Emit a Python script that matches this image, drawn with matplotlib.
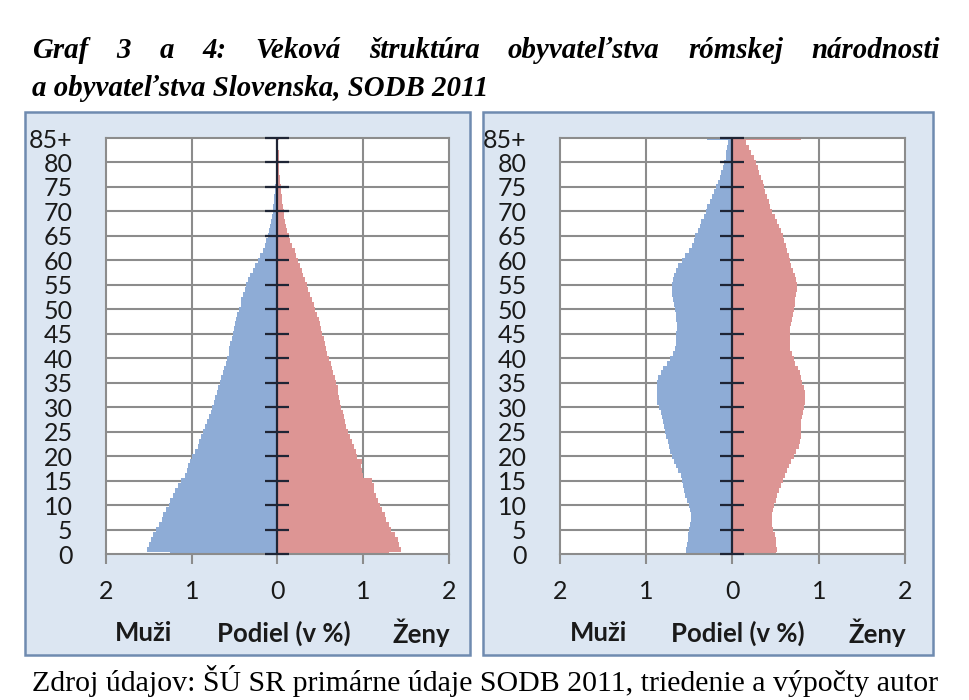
import numpy as np
import matplotlib
matplotlib.use('Agg')
import matplotlib.pyplot as plt
from matplotlib.patches import Rectangle

# ages 0..84 and 85+
ages = list(range(86))
ageLabels = [str(a) for a in range(0, 85, 5)] + ['85+']

# Roma population (% of total), men and women
romaMen = [1.25, 1.52, 1.50, 1.47, 1.45, 1.42, 1.38, 1.35, 1.33, 1.30,
           1.27, 1.25, 1.22, 1.19, 1.16, 1.12, 1.08, 1.05, 1.04, 1.02,
           1.00, 0.96, 0.93, 0.91, 0.89, 0.87, 0.84, 0.82, 0.80, 0.78,
           0.76, 0.74, 0.73, 0.71, 0.69, 0.67, 0.66, 0.64, 0.62, 0.60,
           0.59, 0.57, 0.56, 0.55, 0.53, 0.52, 0.51, 0.49, 0.48, 0.47,
           0.45, 0.43, 0.42, 0.40, 0.38, 0.37, 0.34, 0.32, 0.29, 0.26,
           0.23, 0.20, 0.17, 0.15, 0.13, 0.11, 0.10, 0.09, 0.07, 0.06,
           0.05, 0.05, 0.04, 0.04, 0.03, 0.03, 0.02, 0.02, 0.02, 0.02,
           0.01, 0.01, 0.01, 0.01, 0.01, 0.01]
romaWomen = [1.30, 1.44, 1.42, 1.40, 1.37, 1.32, 1.30, 1.27, 1.25, 1.22,
             1.19, 1.17, 1.15, 1.13, 1.12, 1.10, 1.00, 0.98, 0.97, 0.98,
             0.93, 0.91, 0.89, 0.87, 0.85, 0.82, 0.80, 0.79, 0.78, 0.76,
             0.74, 0.73, 0.72, 0.71, 0.70, 0.68, 0.67, 0.65, 0.64, 0.62,
             0.60, 0.58, 0.57, 0.55, 0.54, 0.52, 0.51, 0.49, 0.48, 0.46,
             0.44, 0.42, 0.40, 0.38, 0.36, 0.34, 0.32, 0.30, 0.28, 0.26,
             0.24, 0.22, 0.20, 0.17, 0.15, 0.13, 0.11, 0.10, 0.09, 0.08,
             0.07, 0.06, 0.05, 0.05, 0.04, 0.04, 0.03, 0.03, 0.02, 0.02,
             0.02, 0.02, 0.02, 0.01, 0.01, 0.02]

# whole Slovakia
skMen = [0.54, 0.54, 0.53, 0.52, 0.52, 0.50, 0.49, 0.48, 0.48, 0.49,
         0.50, 0.53, 0.55, 0.56, 0.57, 0.58, 0.60, 0.63, 0.66, 0.68,
         0.70, 0.72, 0.74, 0.75, 0.77, 0.78, 0.79, 0.81, 0.82, 0.83,
         0.85, 0.87, 0.88, 0.88, 0.88, 0.87, 0.86, 0.83, 0.80, 0.76,
         0.72, 0.69, 0.67, 0.66, 0.65, 0.65, 0.64, 0.64, 0.65, 0.66,
         0.67, 0.68, 0.69, 0.70, 0.70, 0.70, 0.69, 0.68, 0.66, 0.63,
         0.59, 0.55, 0.51, 0.47, 0.45, 0.43, 0.40, 0.38, 0.36, 0.33,
         0.31, 0.29, 0.26, 0.24, 0.21, 0.19, 0.17, 0.15, 0.13, 0.11,
         0.10, 0.08, 0.07, 0.06, 0.05, 0.30]
skWomen = [0.50, 0.52, 0.51, 0.50, 0.49, 0.47, 0.46, 0.46, 0.46, 0.47,
           0.48, 0.50, 0.52, 0.54, 0.56, 0.58, 0.61, 0.63, 0.65, 0.68,
           0.71, 0.74, 0.77, 0.78, 0.79, 0.79, 0.80, 0.80, 0.81, 0.82,
           0.83, 0.84, 0.84, 0.84, 0.83, 0.81, 0.80, 0.78, 0.76, 0.73,
           0.71, 0.69, 0.67, 0.67, 0.67, 0.67, 0.67, 0.68, 0.69, 0.70,
           0.71, 0.72, 0.73, 0.74, 0.75, 0.75, 0.74, 0.72, 0.70, 0.68,
           0.67, 0.65, 0.63, 0.62, 0.60, 0.58, 0.56, 0.54, 0.52, 0.49,
           0.46, 0.44, 0.42, 0.40, 0.38, 0.37, 0.35, 0.33, 0.31, 0.29,
           0.27, 0.25, 0.22, 0.19, 0.16, 0.80]

xTicks = [-2, -1, 0, 1, 2]
xTickLabels = ['2', '1', '0', '1', '2']

titleLine1 = 'Graf 3 a 4: Veková štruktúra obyvateľstva rómskej národnosti'
titleLine2 = 'a obyvateľstva Slovenska, SODB 2011'
source = 'Zdroj údajov: ŠÚ SR primárne údaje SODB 2011, triedenie a výpočty autor'

W, H = 970, 700
blue = '#8eacd6'
red = '#dd9594'
gridCol = '#8c8c8c'
sans = ['Lato', 'DejaVu Sans']
serif = ['Liberation Serif', 'DejaVu Serif']

def fx(x):
  return x / W

def fy(y):
  return 1 - y / H

fig = plt.figure(figsize=(W / 100, H / 100), dpi=100)

# panel backgrounds (frames)
for x0, x1 in [(25, 470), (483, 933)]:
  fig.patches.append(Rectangle((fx(x0), fy(655)), fx(x1) - fx(x0), fy(112) - fy(655),
                               transform=fig.transFigure, facecolor='#dce6f2',
                               edgecolor='#6f8bb0', linewidth=1.8, zorder=-5))

panels = [(106, 449, romaMen, romaWomen), (560, 905, skMen, skWomen)]
for left, right, men, women in panels:
  ax = fig.add_axes([fx(left), fy(554), fx(right) - fx(left), fy(138) - fy(554)])
  ax.set_zorder(2)
  ax.set_facecolor('white')
  ax.barh(ages, [-v for v in men], height=1.02, color=blue, linewidth=0, zorder=2)
  ax.barh(ages, women, height=1.02, color=red, linewidth=0, zorder=2)
  ax.set_xlim(-2, 2)
  ax.set_ylim(0, 85)
  ax.set_yticks(list(range(0, 86, 5)))
  ax.set_yticklabels(ageLabels, fontsize=18, family=sans, color='#1a1a1a')
  ax.tick_params(axis='y', length=0, pad=24)
  ax.set_xticks(xTicks)
  ax.set_xticklabels(xTickLabels, fontsize=18, family=sans, color='#1a1a1a')
  ax.tick_params(axis='x', length=7, width=1.5, color=gridCol, pad=12)
  for v in [-1, 1]:
    ax.axvline(v, color=gridCol, linewidth=1.5, zorder=1)
  for a in range(5, 85, 5):
    ax.axhline(a, color=gridCol, linewidth=1.5, zorder=1)
  for s in ax.spines.values():
    s.set_color(gridCol)
    s.set_linewidth(1.5)
  # zero axis with cross ticks
  ax.axvline(0, color='#1f2535', linewidth=1.6, zorder=3)
  ax.plot([0] * 18, list(range(0, 86, 5)), linestyle='none', marker='_',
          markersize=17, markeredgewidth=1.6, color='#1f2535', zorder=3, clip_on=False)

# bottom labels
for cx in [(144, 284, 421), (599, 738, 877)]:
  for x, t in zip(cx, ['Muži', 'Podiel (v %)', 'Ženy']):
    fig.text(fx(x), fy(633), t, ha='center', va='center', fontsize=18.5,
             fontweight='bold', family=sans, color='#1a1a1a')

# title: line 1 justified between x=32 and x=940
fig.canvas.draw()
rend = fig.canvas.get_renderer()
tsize = 20.8
words = titleLine1.split(' ')
objs = [fig.text(0, fy(50), w, fontsize=tsize, fontweight='bold', fontstyle='italic',
                 family=serif, va='center', ha='left') for w in words]
widths = [o.get_window_extent(rend).width for o in objs]
gap = (940 - 32 - sum(widths)) / (len(words) - 1)
x = 32
for o, w in zip(objs, widths):
  o.set_x(fx(x))
  x += w + gap

fig.text(fx(32), fy(89), titleLine2, fontsize=tsize, fontweight='bold', fontstyle='italic',
         family=serif, va='center', ha='left')

fig.text(fx(32), fy(681), source, fontsize=21.5, family=serif, va='center', ha='left')

fig.savefig('out.png', dpi=100)
